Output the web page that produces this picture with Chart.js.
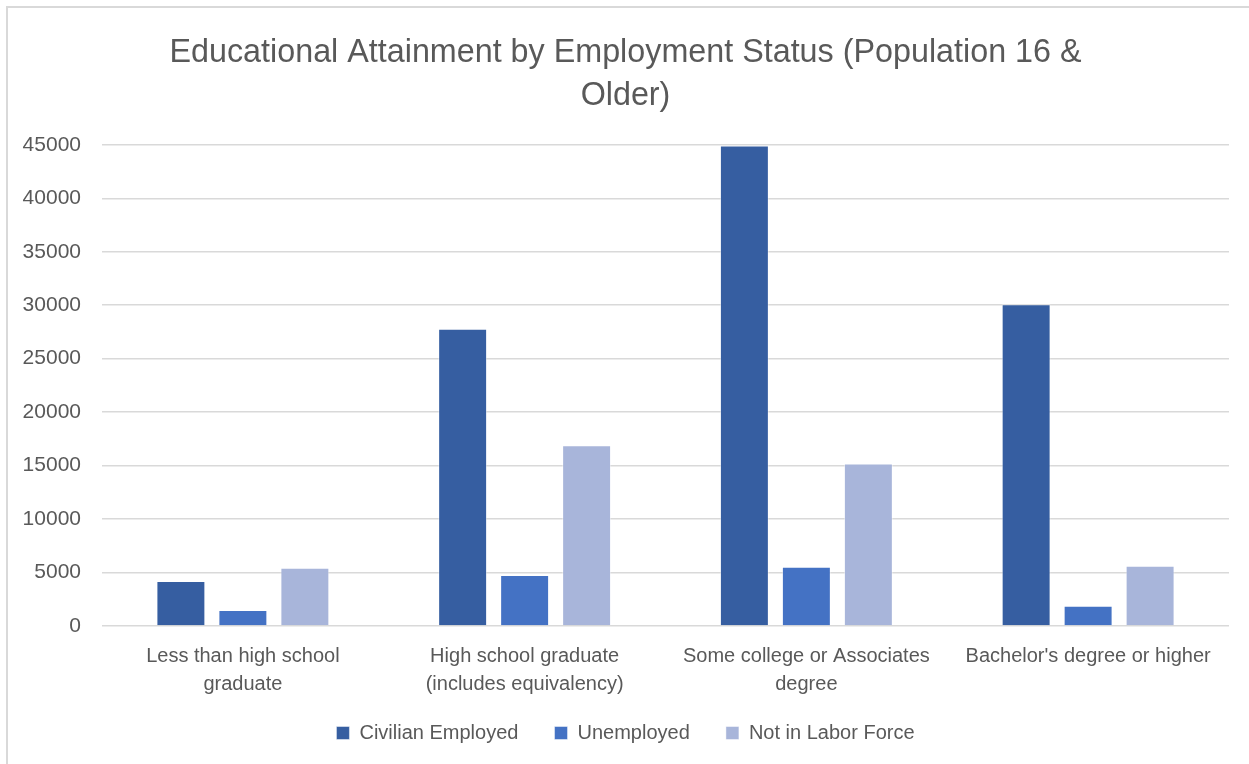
<!DOCTYPE html>
<html>
<head>
<meta charset="utf-8">
<script src="https://cdn.jsdelivr.net/npm/chart.js@4"></script>
<style>
  html, body { margin: 0; padding: 0; background: #fff; overflow: hidden; }
  #wrap { position: relative; width: 1249px; height: 764px; overflow: hidden; }
  #frame { position: absolute; left: 6px; top: 6px; width: 1300px; height: 800px;
           border: 2px solid #d9d9d9; pointer-events: none; }
</style>
</head>
<body>
<div id="wrap">
  <canvas id="myChart" width="1262" height="764"></canvas>
  <div id="frame"></div>
</div>
<script>
// данные графика
var categories = [
    ['Less than high school', 'graduate'],
    ['High school graduate', '(includes equivalency)'],
    ['Some college or Associates', 'degree'],
    ["Bachelor's degree or higher"]
];
var seriesNames = ['Civilian Employed', 'Unemployed', 'Not in Labor Force'];
var civilianEmployed = [4200, 27800, 44950, 30100];
var unemployed = [1500, 4770, 5550, 1900];
var notInLaborForce = [5450, 16900, 15200, 5640];
var yTicks = [0, 5000, 10000, 15000, 20000, 25000, 30000, 35000, 40000, 45000];

var colors = ['#365EA1', '#4472C4', '#A8B5DA'];
var textColor = '#595959';
var fontFamily = '"Liberation Sans", Arial, sans-serif';

var values = [civilianEmployed, unemployed, notInLaborForce];
var datasets = [];
for (var i = 0; i < seriesNames.length; i++) {
    datasets.push({
        label: seriesNames[i],
        data: values[i],
        backgroundColor: colors[i],
        borderColor: 'rgba(255,255,255,0.45)',
        borderWidth: 1,
        categoryPercentage: 0.66,
        barPercentage: 0.79
    });
}

var ctx = document.getElementById('myChart').getContext('2d');
var myChart = new Chart(ctx, {
    type: 'bar',
    data: {
        labels: categories,
        datasets: datasets
    },
    options: {
        responsive: false,
        animation: false,
        layout: {
            padding: { left: 22, right: 33, top: 0, bottom: 11 }
        },
        plugins: {
            title: {
                display: true,
                text: ['Educational Attainment by Employment Status (Population 16 &', 'Older)'],
                color: textColor,
                font: { family: fontFamily, size: 32.3, weight: 'normal', lineHeight: 1.34 },
                padding: { top: 31, bottom: 27.3 }
            },
            legend: {
                position: 'bottom',
                labels: {
                    color: textColor,
                    font: { family: fontFamily, size: 20 },
                    boxWidth: 13,
                    boxHeight: 13,
                    padding: 25,
                    // промежуток между элементами легенды
                    generateLabels: function(chart) {
                        var items = Chart.defaults.plugins.legend.labels.generateLabels(chart);
                        for (var k = 0; k < items.length - 1; k++) {
                            items[k].text = items[k].text + '  ';
                        }
                        return items;
                    }
                }
            },
            tooltip: { enabled: false }
        },
        scales: {
            x: {
                grid: { display: false, drawTicks: false },
                border: { display: false },
                ticks: {
                    color: textColor,
                    font: { family: fontFamily, size: 20, lineHeight: 1.4 },
                    padding: 16,
                    maxRotation: 0,
                    autoSkip: false
                },
                afterFit: function(scale) {
                    scale.height = 72;
                }
            },
            y: {
                min: 0,
                max: 45000,
                afterBuildTicks: function(scale) {
                    scale.ticks = yTicks.map(function(v) { return { value: v }; });
                },
                grid: { color: '#d9d9d9', lineWidth: 1.5, drawTicks: false },
                border: { display: false },
                ticks: {
                    color: textColor,
                    font: { family: fontFamily, size: 21 },
                    padding: 21,
                    callback: function(value) { return String(value); }
                },
                afterFit: function(scale) {
                    scale.width = 80;
                }
            }
        }
    }
});
</script>
</body>
</html>
